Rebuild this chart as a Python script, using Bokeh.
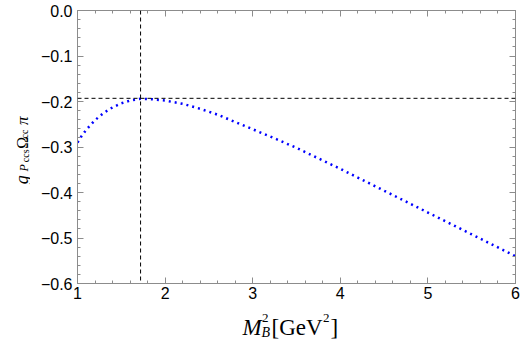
import numpy as np
from bokeh.plotting import figure
from bokeh.layouts import column, row
from bokeh.models import Range1d, FixedTicker, LinearAxis, Label, Span, CustomLabelingPolicy
from bokeh.embed import file_html
from bokeh.resources import INLINE

# ---- data ----
m2 = [1.0, 1.05, 1.1, 1.2, 1.3, 1.4, 1.5, 1.6, 1.72, 1.85, 2.0, 2.2, 2.4, 2.6,
      2.8, 3.0, 3.25, 3.5, 3.75, 4.0, 4.5, 5.0, 5.5, 6.0]
g_coupling = [-0.290, -0.275, -0.262, -0.241, -0.225, -0.213, -0.204, -0.198,
              -0.194, -0.195, -0.198, -0.205, -0.216, -0.229, -0.245, -0.261,
              -0.281, -0.302, -0.325, -0.348, -0.396, -0.444, -0.492, -0.540]
peak_m2 = 1.72
peak_g = -0.193

x_ticks = [1, 2, 3, 4, 5, 6]
x_tick_labels = ["1", "2", "3", "4", "5", "6"]
y_ticks = [0.0, -0.1, -0.2, -0.3, -0.4, -0.5, -0.6]
y_tick_labels = ["0.0", "\u22120.1", "\u22120.2", "\u22120.3", "\u22120.4", "\u22120.5", "\u22120.6"]

FRAME = "#8c8c8c"
SERIF = "Liberation Serif"

YL_W = 30
MAIN_W, MAIN_H = 490, 305
XL_H = 35

p = figure(width=MAIN_W, height=MAIN_H, output_backend="svg", toolbar_location=None,
           x_range=Range1d(1, 6), y_range=Range1d(-0.6, 0.0),
           min_border_left=47, min_border_right=3, min_border_top=10,
           min_border_bottom=22)
p.grid.visible = False
p.outline_line_color = None
p.background_fill_color = "white"
p.border_fill_color = "white"

x_minor = [float(v) for v in np.round(np.arange(1.0, 6.0001, 0.2), 3)]
y_minor = [float(v) for v in np.round(np.arange(-0.6, 0.0001, 0.02), 3)]

hide_all = CustomLabelingPolicy(code="""
for (let i = 0; i < indices.size; i++) { indices.unset(i) }
return indices
""")


def style(ax, show_labels):
    ax.axis_line_color = FRAME
    ax.axis_line_width = 1
    ax.major_tick_line_color = FRAME
    ax.minor_tick_line_color = FRAME
    ax.major_tick_in = 6
    ax.major_tick_out = 0
    ax.minor_tick_in = 3
    ax.minor_tick_out = 0
    if show_labels:
        ax.major_label_text_font = "Liberation Sans"
        ax.major_label_text_font_size = "16px"
        ax.major_label_text_color = "black"
    else:
        ax.major_label_policy = hide_all
        ax.major_label_text_font_size = "1px"
        ax.major_label_standoff = 0


xb = p.xaxis[0]
xb.ticker = FixedTicker(ticks=x_ticks, minor_ticks=x_minor)
xb.major_label_overrides = dict(zip(x_ticks, x_tick_labels))
style(xb, True)
xb.major_label_standoff = 3

yl = p.yaxis[0]
yl.ticker = FixedTicker(ticks=y_ticks, minor_ticks=y_minor)
yl.major_label_overrides = dict(zip(y_ticks, y_tick_labels))
style(yl, True)
yl.major_label_standoff = 5

xt = LinearAxis(ticker=FixedTicker(ticks=x_ticks, minor_ticks=x_minor))
style(xt, False)
p.add_layout(xt, "above")
yr = LinearAxis(ticker=FixedTicker(ticks=y_ticks, minor_ticks=y_minor))
style(yr, False)
p.add_layout(yr, "right")

# reference lines at the maximum
p.add_layout(Span(location=peak_g, dimension="width", line_color="black",
                  line_width=1, line_dash="4 3"))
p.add_layout(Span(location=peak_m2, dimension="height", line_color="black",
                  line_width=1, line_dash="4 3"))

# the curve
p.line(m2, g_coupling, line_color="#0000ff", line_width=2.5, line_dash="2 4")


def text_panel(w, h):
    f = figure(width=w, height=h, output_backend="svg", toolbar_location=None,
               x_range=Range1d(0, w), y_range=Range1d(0, h),
               x_axis_location=None, y_axis_location=None,
               min_border=0)
    f.grid.visible = False
    f.outline_line_color = None
    f.background_fill_color = "white"
    f.border_fill_color = "white"
    return f


def lab(f, text, x, y, size, style="normal", angle=0.0):
    f.add_layout(Label(x=x, y=y, text=text, text_font=SERIF, text_font_size=size,
                       text_font_style=style, text_color="black",
                       text_align="left", text_baseline="alphabetic", angle=angle))


# y-axis label  g_{P_ccs Omega_cc pi}
fy = text_panel(YL_W, MAIN_H)
A = np.pi / 2
lab(fy, "g", 21.5, 111, "18px", "italic", A)
lab(fy, "P", 23.0, 125, "12px", "italic", A)
lab(fy, "ccs", 24.5, 135.5, "10px", "normal", A)
lab(fy, "\u03a9", 21.5, 150.5, "16px", "normal", A)
lab(fy, "cc", 24.0, 162, "10px", "normal", A)
lab(fy, "\u03c0", 21.5, 177, "17px", "italic", A)

# x-axis label  M_B^2 [GeV^2]
fx = text_panel(YL_W + MAIN_W, XL_H)
lab(fx, "M", 242, 13, "23px", "italic")
lab(fx, "2", 261.5, 23, "13px")
lab(fx, "B", 261, 8, "14px", "italic")
lab(fx, "[GeV", 271, 13, "23px")
lab(fx, "2", 322.5, 23, "13px")
lab(fx, "]", 330, 13, "23px")

layout = column(row(fy, p, spacing=0), fx, spacing=0)

open("out.html", "w").write(file_html(layout, INLINE))
